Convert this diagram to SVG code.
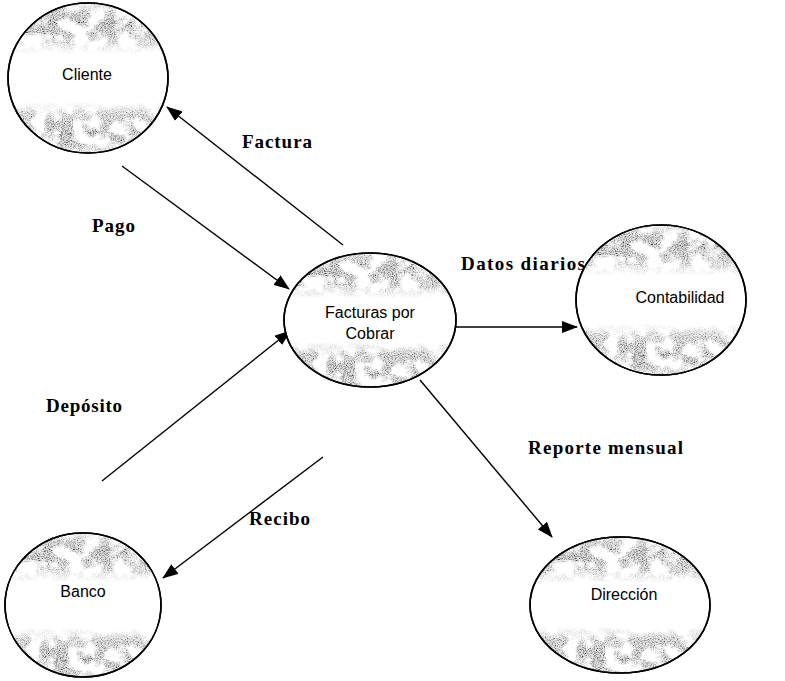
<svg xmlns="http://www.w3.org/2000/svg" width="785" height="681" viewBox="0 0 785 681">
  <style>
    .oval { fill: #ffffff; stroke: #000000; stroke-width: 1.6; }
    .grain { filter: url(#grain); mask: url(#bands); clip-path: url(#ovalClip); }
    .name { font-family: "Liberation Sans", Arial, sans-serif; font-size: 16px; fill: #000; text-anchor: middle; }
    .flow { font-family: "Liberation Serif", "Times New Roman", serif; font-size: 19px; font-weight: bold; fill: #000; }
    .wire { stroke: #000000; stroke-width: 1.4; fill: none; marker-end: url(#head); }
  </style>
  <defs>
    <marker id="head" viewBox="0 0 16 12" refX="15" refY="6" markerWidth="16" markerHeight="12" markerUnits="userSpaceOnUse" orient="auto">
      <path d="M0,0 L16,6 L0,12 Z" fill="#000"/>
    </marker>
    <clipPath id="ovalClip" clipPathUnits="objectBoundingBox">
      <ellipse cx="0.5" cy="0.5" rx="0.5" ry="0.5"/>
    </clipPath>
    <linearGradient id="bandGrad" x1="0" y1="0" x2="0" y2="1">
      <stop offset="0" stop-color="#fff" stop-opacity="0.5"/>
      <stop offset="0.13" stop-color="#fff" stop-opacity="1"/>
      <stop offset="0.23" stop-color="#fff" stop-opacity="0.75"/>
      <stop offset="0.34" stop-color="#fff" stop-opacity="0"/>
      <stop offset="0.66" stop-color="#fff" stop-opacity="0"/>
      <stop offset="0.76" stop-color="#fff" stop-opacity="0.75"/>
      <stop offset="0.87" stop-color="#fff" stop-opacity="1"/>
      <stop offset="1" stop-color="#fff" stop-opacity="0.7"/>
    </linearGradient>
    <mask id="bands" maskContentUnits="objectBoundingBox">
      <rect width="1" height="1" fill="url(#bandGrad)"/>
    </mask>
    <!-- speckled halftone shading: fine dots over soft grey blotches -->
    <filter id="grain" x="0" y="0" width="1" height="1" color-interpolation-filters="sRGB">
      <feTurbulence type="fractalNoise" baseFrequency="0.07" numOctaves="3" seed="5" result="blotN"/>
      <feColorMatrix in="blotN" type="matrix" values="0 0 0 0 0  0 0 0 0 0  0 0 0 0 0  4 0 0 0 -1.5" result="blot"/>
      <feFlood flood-color="#a8a8a8" flood-opacity="0.45" result="tint"/>
      <feComposite in="tint" in2="blot" operator="in" result="base"/>
      <feTurbulence type="fractalNoise" baseFrequency="0.9" numOctaves="1" seed="11" result="fineN"/>
      <feColorMatrix in="fineN" type="matrix" values="0 0 0 0 0.58  0 0 0 0 0.58  0 0 0 0 0.58  14 0 0 0 -6.9" result="gray"/>
      <feColorMatrix in="fineN" type="matrix" values="0 0 0 0 0.18  0 0 0 0 0.18  0 0 0 0 0.18  14 0 0 0 -9.2" result="dark"/>
      <feMerge result="specks">
        <feMergeNode in="gray"/>
        <feMergeNode in="dark"/>
      </feMerge>
      <feComposite in="specks" in2="blot" operator="in" result="dots"/>
      <feMerge>
        <feMergeNode in="base"/>
        <feMergeNode in="dots"/>
      </feMerge>
    </filter>
  </defs>

  <rect width="785" height="681" fill="#ffffff"/>

  <g id="connectors">
    <line class="wire" x1="343" y1="245" x2="167" y2="107"/>
    <line class="wire" x1="122" y1="166" x2="289" y2="289"/>
    <line class="wire" x1="455" y1="327" x2="577" y2="327"/>
    <line class="wire" x1="420" y1="380" x2="552" y2="537"/>
    <line class="wire" x1="102" y1="481" x2="290" y2="331"/>
    <line class="wire" x1="323" y1="457" x2="163" y2="578"/>
    <text class="flow" x="242" y="148" textLength="70">Factura</text>
    <text class="flow" x="92" y="232" textLength="43">Pago</text>
    <text class="flow" x="461" y="270" textLength="124">Datos diarios</text>
    <text class="flow" x="46" y="412" textLength="76">Depósito</text>
    <text class="flow" x="528" y="454" textLength="155">Reporte mensual</text>
    <text class="flow" x="249" y="525" textLength="61">Recibo</text>
  </g>

  <g id="cliente" transform="translate(88,78)">
    <ellipse class="oval" rx="80" ry="75"/>
    <rect class="grain" x="-80" y="-75" width="160" height="150"/>
    <ellipse rx="80" ry="75" fill="none" stroke="#000" stroke-width="1.6"/>
    <text class="name" x="-1" y="2">Cliente</text>
  </g>

  <g id="facturas" transform="translate(370,320)">
    <ellipse class="oval" rx="86" ry="67"/>
    <rect class="grain" x="-86" y="-67" width="172" height="134"/>
    <ellipse rx="86" ry="67" fill="none" stroke="#000" stroke-width="1.6"/>
    <text class="name" x="0" y="-2">Facturas por</text>
    <text class="name" x="0" y="19">Cobrar</text>
  </g>

  <g id="contabilidad" transform="translate(661,300)">
    <ellipse class="oval" rx="85" ry="75"/>
    <rect class="grain" x="-85" y="-75" width="170" height="150"/>
    <ellipse rx="85" ry="75" fill="none" stroke="#000" stroke-width="1.6"/>
    <text class="name" x="19" y="3">Contabilidad</text>
  </g>

  <g id="banco" transform="translate(83,605)">
    <ellipse class="oval" rx="78" ry="72"/>
    <rect class="grain" x="-78" y="-72" width="156" height="144"/>
    <ellipse rx="78" ry="72" fill="none" stroke="#000" stroke-width="1.6"/>
    <text class="name" x="0" y="-8">Banco</text>
  </g>

  <g id="direccion" transform="translate(620,605)">
    <ellipse class="oval" rx="90" ry="68"/>
    <rect class="grain" x="-90" y="-68" width="180" height="136"/>
    <ellipse rx="90" ry="68" fill="none" stroke="#000" stroke-width="1.6"/>
    <text class="name" x="4" y="-5">Dirección</text>
  </g>
</svg>
